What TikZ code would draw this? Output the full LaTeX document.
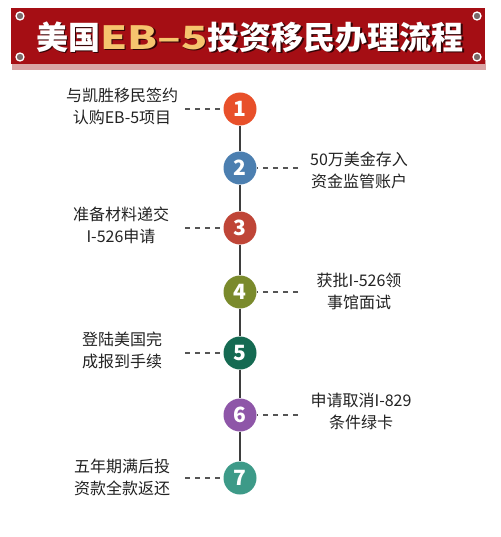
\documentclass[tikz,border=0pt]{standalone}
\usepackage{fontspec}
\usepackage{graphicx}
\newfontfamily\cjk{Noto Sans CJK SC}
\definecolor{bannerred}{HTML}{A50E14}
\definecolor{bannershadow}{HTML}{D9A5A5}
\definecolor{titlegold}{HTML}{F6C46E}
\definecolor{rivet}{HTML}{7A6A6A}
\definecolor{spinegray}{HTML}{3E3E3E}
\definecolor{dashgray}{HTML}{555555}
\definecolor{txt}{HTML}{222222}
\definecolor{ca}{HTML}{E8502A}
\definecolor{cb}{HTML}{4C7FB0}
\definecolor{cc}{HTML}{BF4537}
\definecolor{cd}{HTML}{7A8A2C}
\definecolor{ce}{HTML}{156A52}
\definecolor{cf}{HTML}{8E56A8}
\definecolor{cg}{HTML}{3D9A88}
\tikzset{
  stepcirc/.style={circle, minimum size=33pt, inner sep=0pt, text=white,
    font=\cjk\bfseries\fontsize{21}{21}\selectfont},
  spine/.style={draw=spinegray, line width=2.4pt},
  dashline/.style={draw=dashgray, line width=1.6pt, dash pattern=on 5pt off 5pt},
  steptext/.style={align=center, text=txt, inner sep=0pt,
    font=\cjk\fontsize{16}{22}\selectfont},
  rivetdot/.style={circle, fill=rivet, draw=white, line width=1.3pt, minimum size=8pt, inner sep=0pt}
}
\begin{document}
\begin{tikzpicture}[x=1pt,y=-1pt]
\useasboundingbox (0,0) rectangle (500,537);
\fill[white] (0,0) rectangle (500,537);
% banner
\fill[bannershadow] (12,60) rectangle (486,70);
\fill[bannerred] (11,8) rectangle (485,64);
\node[rivetdot] (r1) at (20,16) {};
\node[rivetdot] (r2) at (20,57) {};
\node[rivetdot] (r3) at (477,16) {};
\node[rivetdot] (r4) at (477,57) {};
\node[text=black!70!bannerred, font=\cjk\bfseries\fontsize{32}{32}\selectfont, inner sep=0pt] (tshadow) at (251.5,38.5)
  {美国\scalebox{1.35}[1]{EB–5}投资移民办理流程};
\node[font=\cjk\bfseries\fontsize{32}{32}\selectfont, inner sep=0pt] (title) at (250,37)
  {\textcolor{white}{美国}\textcolor{titlegold}{\scalebox{1.35}[1]{EB–5}}\textcolor{white}{投资移民办理流程}};
% steps
\node[stepcirc, fill=ca] (n1) at (240,109) {1};
\node[stepcirc, fill=cb] (n2) at (240,168) {2};
\node[stepcirc, fill=cc] (n3) at (240,228) {3};
\node[stepcirc, fill=cd] (n4) at (240,292) {4};
\node[stepcirc, fill=ce] (n5) at (240,353) {5};
\node[stepcirc, fill=cf] (n6) at (240,415) {6};
\node[stepcirc, fill=cg] (n7) at (240,478) {7};
\foreach \a/\b in {n1/n2,n2/n3,n3/n4,n4/n5,n5/n6,n6/n7}
  \draw[spine] (\a) -- (\b);
% texts
\node[steptext] (t1) at (122,106) {与凯胜移民签约\\认购EB-5项目};
\node[steptext] (t2) at (359,170) {50万美金存入\\资金监管账户};
\node[steptext] (t3) at (121,225) {准备材料递交\\I-526申请};
\node[steptext] (t4) at (359,291) {获批I-526领\\事馆面试};
\node[steptext] (t5) at (122,350) {登陆美国完\\成报到手续};
\node[steptext] (t6) at (361,411) {申请取消I-829\\条件绿卡};
\node[steptext] (t7) at (122,477) {五年期满后投\\资款全款返还};
% dashes
\coordinate (d1) at (185,109);
\coordinate (d2) at (298,168);
\coordinate (d3) at (185,228);
\coordinate (d4) at (298,292);
\coordinate (d5) at (185,353);
\coordinate (d6) at (298,415);
\coordinate (d7) at (185,478);
\draw[dashline] (d1) -- (n1);
\draw[dashline] (d2) -- (n2);
\draw[dashline] (d3) -- (n3);
\draw[dashline] (d4) -- (n4);
\draw[dashline] (d5) -- (n5);
\draw[dashline] (d6) -- (n6);
\draw[dashline] (d7) -- (n7);
\end{tikzpicture}
\end{document}
